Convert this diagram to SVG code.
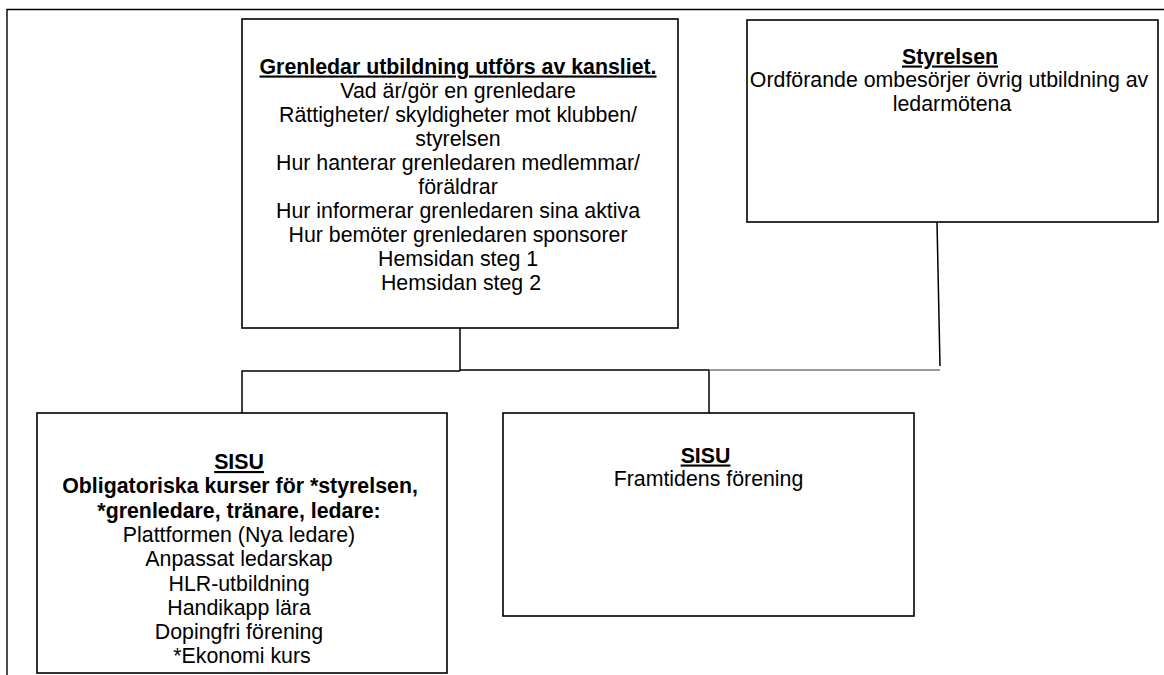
<svg xmlns="http://www.w3.org/2000/svg" width="1164" height="675" viewBox="0 0 1164 675">
<style>
.box{fill:#fff;stroke:#000;stroke-width:1.6}
.frame{fill:none;stroke:#000;stroke-width:1.4}
.con{fill:none;stroke:#000;stroke-width:1.5}
.con2{fill:none;stroke:#777;stroke-width:1.5}
text{font-family:"Liberation Sans",Arial,sans-serif;font-size:21.33px;fill:#000;text-anchor:middle}
.b{font-weight:bold}
.u{text-decoration:underline}
</style>
<rect width="1164" height="675" fill="#fff"/>
<g id="frame">
<path class="frame" d="M7,675 V9.5 H1164"/>
</g>
<g id="connectors">
<path class="con" d="M460,328 V371"/>
<path class="con" d="M242,413 V371 H460"/>
<path class="con" d="M460,370 H709 V413"/>
<path class="con2" d="M709,370 H940"/>
<path class="con" d="M937,222 L940,366"/>
</g>
<g id="grenledar">
<rect class="box" x="242" y="19" width="436" height="309"/>
<text x="461" y="73.5"><tspan class="b u">Grenledar utbildning utförs av kansliet.</tspan>
<tspan x="461" dy="24">Vad är/gör en grenledare</tspan>
<tspan x="461" dy="24">Rättigheter/ skyldigheter mot klubben/</tspan>
<tspan x="461" dy="24">styrelsen</tspan>
<tspan x="461" dy="24">Hur hanterar grenledaren medlemmar/</tspan>
<tspan x="461" dy="24">föräldrar</tspan>
<tspan x="461" dy="24">Hur informerar grenledaren sina aktiva</tspan>
<tspan x="461" dy="24">Hur bemöter grenledaren sponsorer</tspan>
<tspan x="461" dy="24">Hemsidan steg 1</tspan>
<tspan x="461" dy="24">Hemsidan steg 2</tspan></text>
</g>
<g id="styrelsen">
<rect class="box" x="747" y="20" width="411" height="202"/>
<text x="953" y="63.5"><tspan class="b u">Styrelsen</tspan>
<tspan x="952" dy="23.7">Ordförande ombesörjer övrig utbildning av</tspan>
<tspan x="952" dy="23.7">ledarmötena</tspan></text>
</g>
<g id="sisu-kurser">
<rect class="box" x="37" y="413" width="410" height="260"/>
<text x="242" y="469"><tspan class="b u">SISU</tspan>
<tspan x="243" dy="24.3" class="b">Obligatoriska kurser för *styrelsen,</tspan>
<tspan x="242" dy="24.3" class="b">*grenledare, tränare, ledare:</tspan>
<tspan x="242" dy="24.3">Plattformen (Nya ledare)</tspan>
<tspan x="242" dy="24.3">Anpassat ledarskap</tspan>
<tspan x="242" dy="24.3">HLR-utbildning</tspan>
<tspan x="242" dy="24.3">Handikapp lära</tspan>
<tspan x="242" dy="24.3">Dopingfri förening</tspan>
<tspan x="242" dy="24.3">*Ekonomi kurs</tspan></text>
</g>
<g id="sisu-framtid">
<rect class="box" x="503" y="413" width="411" height="203"/>
<text x="708.5" y="462.5"><tspan class="b u">SISU</tspan>
<tspan x="708.5" dy="23.5">Framtidens förening</tspan></text>
</g>
</svg>
